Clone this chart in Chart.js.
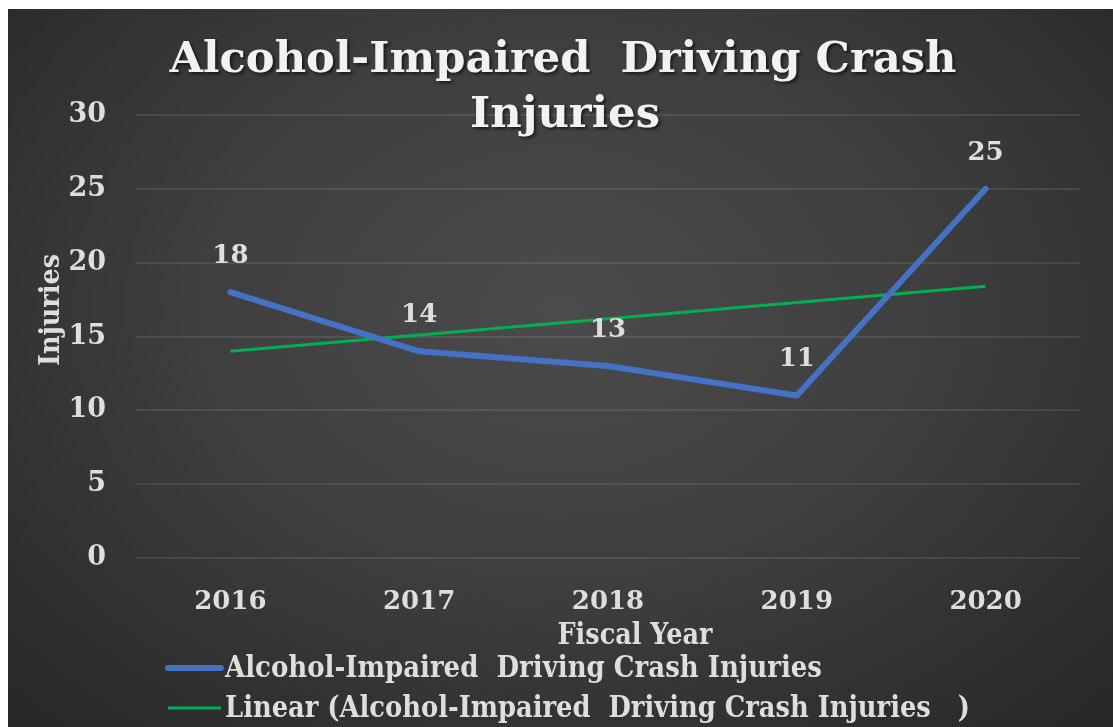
<!DOCTYPE html>
<html>
<head>
<meta charset="utf-8">
<script src="https://cdn.jsdelivr.net/npm/chart.js@4/dist/chart.umd.min.js"></script>
<style>
  html, body { margin: 0; padding: 0; background: #fff; }
  #card {
    position: absolute; left: 8px; top: 9px; width: 1105px; height: 718px;
    background: radial-gradient(ellipse 75% 85% at 50% 42%, #4b4b4b 0%, #3e3e3e 45%, #2b2b2b 85%, #262626 100%);
  }
</style>
</head>
<body>
<div id="card"><canvas id="c" width="1105" height="718"></canvas></div>
<script>
  // dati
  const years = ['2016', '2017', '2018', '2019', '2020'];
  const injuries = [18, 14, 13, 11, 25];
  const trend = [14.0, 15.1, 16.2, 17.3, 18.4];
  const seriesLabel = 'Alcohol-Impaired  Driving Crash Injuries';
  const trendLabel = 'Linear (Alcohol-Impaired  Driving Crash Injuries   )';
  const titleLines = ['Alcohol-Impaired  Driving Crash', 'Injuries'];
  const yTitle = 'Injuries';
  const xTitle = 'Fiscal Year';

  const SERIF = "'DejaVu Serif', serif";
  const TXT = '#dedede';

  // testo scalato in orizzontale per occupare una larghezza data
  function fitText(ctx, text, x, y, w, align) {
    const m = ctx.measureText(text).width;
    ctx.save();
    ctx.translate(x, y);
    ctx.scale(w / m, 1);
    ctx.textAlign = align;
    ctx.fillText(text, 0, 0);
    ctx.restore();
  }

  const decor = {
    id: 'decor',
    afterDatasetsDraw(chart) {
      const ctx = chart.ctx;
      ctx.save();
      ctx.textBaseline = 'middle';
      // etichette dati
      ctx.fillStyle = TXT;
      ctx.font = 'bold 26px ' + SERIF;
      ctx.textAlign = 'center';
      chart.getDatasetMeta(0).data.forEach((p, i) => {
        ctx.fillText(String(injuries[i]), p.x, p.y - 36);
      });
      // titolo
      ctx.save();
      ctx.shadowColor = 'rgba(0,0,0,0.6)';
      ctx.shadowOffsetX = 2; ctx.shadowOffsetY = 2; ctx.shadowBlur = 3;
      ctx.fillStyle = '#f2f2f2';
      ctx.font = 'bold 42px ' + SERIF;
      fitText(ctx, titleLines[0], 555, 52, 787, 'center');
      fitText(ctx, titleLines[1], 557, 107, 190, 'center');
      ctx.restore();
      // titolo asse y
      ctx.fillStyle = TXT;
      ctx.font = 'bold 28px ' + SERIF;
      ctx.save();
      ctx.translate(44, 301);
      ctx.rotate(-Math.PI / 2);
      fitText(ctx, yTitle, 0, 0, 112, 'center');
      ctx.restore();
      // titolo asse x
      ctx.font = 'bold 30px ' + SERIF;
      fitText(ctx, xTitle, 627, 627, 155, 'center');
      // legenda
      const items = [
        { text: seriesLabel, color: chart.data.datasets[0].borderColor, lw: 6, y: 659, w: 597 },
        { text: trendLabel, color: chart.data.datasets[1].borderColor, lw: 3, y: 699, w: 745 },
      ];
      items.forEach(it => {
        ctx.strokeStyle = it.color;
        ctx.lineWidth = it.lw;
        ctx.lineCap = it.lw > 4 ? 'round' : 'butt';
        ctx.beginPath();
        ctx.moveTo(160, it.y); ctx.lineTo(213, it.y);
        ctx.stroke();
        ctx.fillStyle = TXT;
        fitText(ctx, it.text, 217, it.y + 1, it.w, 'left');
      });
      ctx.restore();
    }
  };

  new Chart(document.getElementById('c'), {
    type: 'line',
    data: {
      labels: years,
      datasets: [
        { label: seriesLabel, data: injuries, borderColor: '#4472c4', borderWidth: 6, borderCapStyle: 'round', borderJoinStyle: 'round', pointRadius: 0, tension: 0 },
        { label: trendLabel, data: trend, borderColor: '#00b050', borderWidth: 3, pointRadius: 0, tension: 0 },
      ],
    },
    options: {
      responsive: false, animation: false,
      layout: { padding: { top: 106, right: 33, left: 0, bottom: 0 } },
      plugins: { legend: { display: false }, title: { display: false }, tooltip: { enabled: false } },
      scales: {
        x: {
          offset: true,
          afterFit: (s) => { s.height = 169; },
          grid: { display: false, drawTicks: false },
          border: { display: false },
          ticks: { color: TXT, font: { family: SERIF, size: 26, weight: 'bold' }, padding: 29 },
        },
        y: {
          min: 0, max: 30,
          afterFit: (s) => { s.width = 128; },
          grid: { color: 'rgba(255,255,255,0.09)', lineWidth: 2, drawTicks: false },
          border: { display: false },
          ticks: { stepSize: 5, color: TXT, font: { family: SERIF, size: 27, weight: 'bold' }, padding: 30 },
        },
      },
    },
    plugins: [decor],
  });
</script>
</body>
</html>
